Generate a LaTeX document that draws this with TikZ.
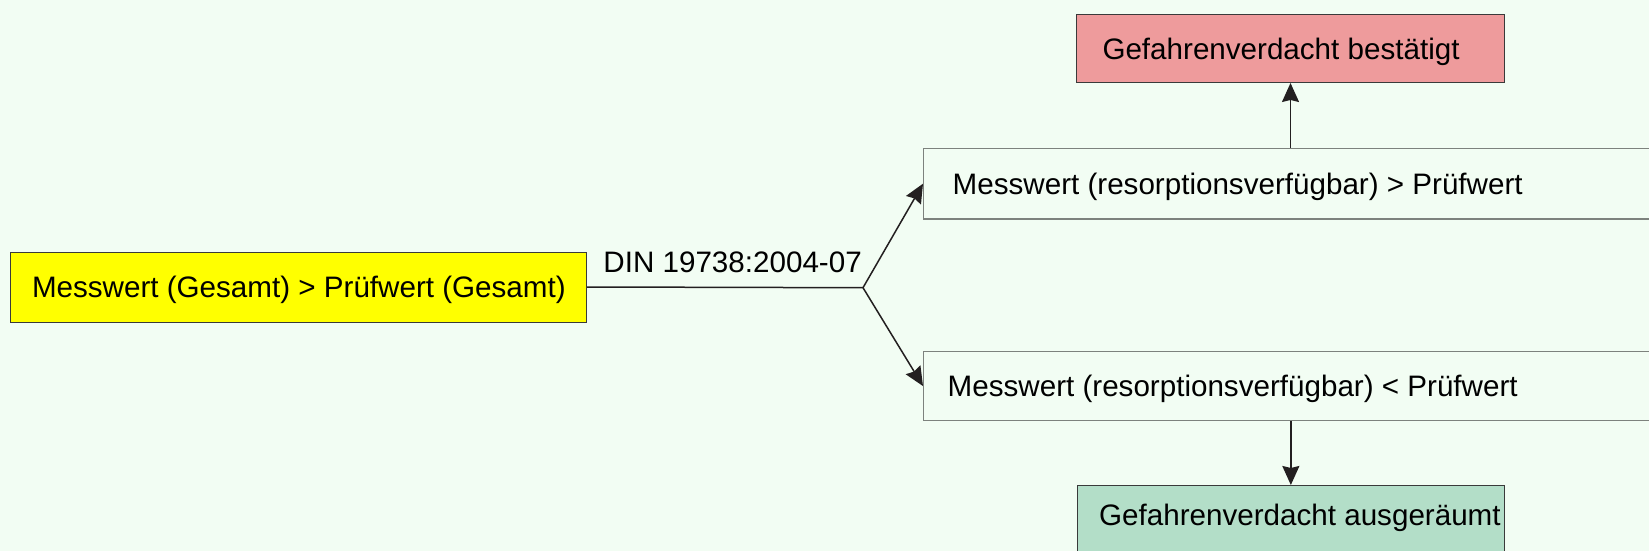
\documentclass[tikz,border=0pt]{standalone}
\usepackage{fontspec}
\setmainfont{Liberation Sans}
\usetikzlibrary{arrows.meta}
\definecolor{bgc}{RGB}{242,253,243}
\definecolor{redf}{RGB}{238,155,156}
\definecolor{grnf}{RGB}{179,222,200}
\definecolor{yelf}{RGB}{255,255,0}
\definecolor{darkb}{RGB}{58,58,58}
\definecolor{grayb}{RGB}{125,130,125}
\definecolor{arrc}{RGB}{35,31,32}
\tikzset{
  box/.style={draw=darkb, line width=1pt, anchor=north west, inner xsep=0pt, inner ysep=0pt,
    text height=21.2pt, text depth=0pt, font=\fontsize{29.6}{35}\selectfont},
  plainbox/.style={box, draw=grayb, line width=1.4pt},
  conn/.style={draw=arrc, line width=1.5pt},
  arr/.style={conn, -{Stealth[length=19pt,width=17pt,inset=2pt]}},
  lbl/.style={font=\fontsize{29.6}{35}\selectfont, inner sep=0pt}
}
\begin{document}
\begin{tikzpicture}[x=1pt,y=-1pt]
\fill[bgc] (0,0) rectangle (1649,551);
\useasboundingbox (0,0) rectangle (1649,551);
\node[box, fill=yelf, minimum height=70pt] (yel) at (9.5,251.5)
  {\makebox[576.5pt][l]{\hspace{22pt}Messwert (Gesamt) > Prüfwert (Gesamt)}};
\node[plainbox, minimum height=70.6pt] (up) at (923,147.7)
  {\makebox[740pt][l]{\hspace{29pt}Messwert (resorptionsverfügbar) > Prüfwert}};
\node[plainbox, minimum height=69.3pt] (lo) at (923,350.7)
  {\makebox[740pt][l]{\hspace{24pt}Messwert (resorptionsverfügbar) < Prüfwert}};
\node[box, fill=redf, minimum height=68pt] (red) at (1076,14)
  {\makebox[428pt][l]{\hspace{26pt}Gefahrenverdacht bestätigt}};
\node[box, fill=grnf, minimum height=80pt, text depth=22pt] (grn) at (1076.7,485)
  {\makebox[427.3pt][l]{\hspace{22pt}Gefahrenverdacht ausgeräumt}};
\coordinate (br) at (863,287.7);
\node[lbl, anchor=base east] (din) at (862,272.7) {DIN 19738:2004-07};
\draw[conn] (yel.east) -- (br);
\draw[arr] (br) -- (up.west);
\draw[arr] (br) -- (lo.west);
\draw[arr] (red.south |- up.north) -- (red.south);
\draw[arr] (lo.south -| grn.north) -- (grn.north);
\end{tikzpicture}
\end{document}
